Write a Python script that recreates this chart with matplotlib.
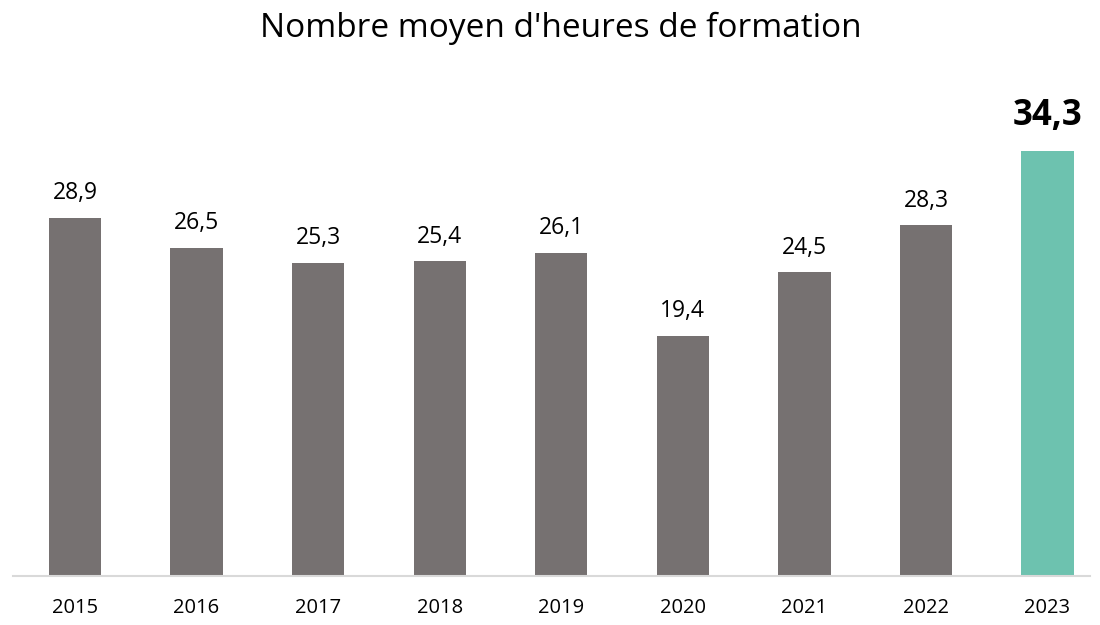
import matplotlib
matplotlib.use("Agg")
import matplotlib.pyplot as plt

years = ["2015", "2016", "2017", "2018", "2019", "2020", "2021", "2022", "2023"]
hours = [28.9, 26.5, 25.3, 25.4, 26.1, 19.4, 24.5, 28.3, 34.3]

GREY = "#767171"
TEAL = "#6DC2AF"

fig = plt.figure(figsize=(11, 6.25), dpi=100)
ax = fig.add_axes([0.0118, 0.0784, 0.9792, 0.7136])

x = range(len(years))
colors = [GREY] * (len(years) - 1) + [TEAL]
bars = ax.bar(x, hours, width=0.43, color=colors)

for i, (b, v) in enumerate(zip(bars, hours)):
    label = f"{v:.1f}".replace(".", ",")
    last = i == len(hours) - 1
    ax.annotate(label, (b.get_x() + b.get_width() / 2, v),
                xytext=(0, 9 if not last else 12), textcoords="offset points",
                ha="center", va="bottom",
                fontsize=25 if last else 16.5,
                fontweight="bold" if last else "normal",
                family="Open Sans", color="black")

ax.set_xlim(-0.51, 8.35)
ax.set_ylim(0, 36)
ax.set_xticks(list(x))
ax.set_xticklabels(years, fontsize=14.5, family="Open Sans")
ax.tick_params(axis="x", length=0, pad=16)
ax.set_yticks([])
for side in ["top", "right", "left"]:
    ax.spines[side].set_visible(False)
ax.spines["bottom"].set_color("#D9D9D9")
ax.spines["bottom"].set_linewidth(1.5)

fig.text(0.51, 0.955, "Nombre moyen d'heures de formation", ha="center", va="center",
         fontsize=24, family="Open Sans", color="black")

fig.savefig("out.png", dpi=100)
plt.close(fig)
